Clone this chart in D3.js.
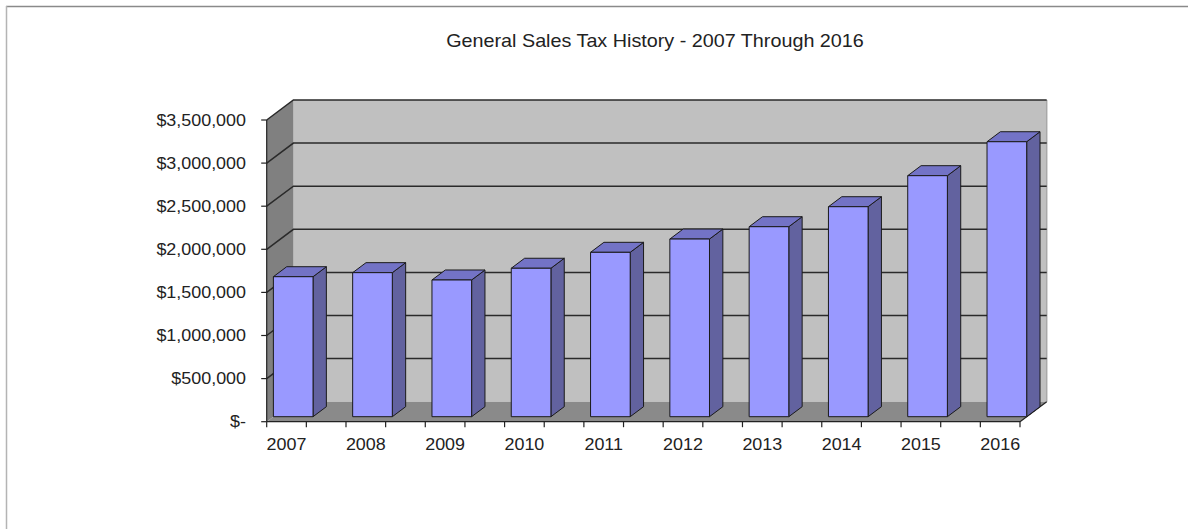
<!DOCTYPE html>
<html>
<head>
<meta charset="utf-8">
<script src="https://cdn.jsdelivr.net/npm/d3@7"></script>
<style>
  html, body { margin: 0; padding: 0; background: #fff; }
  svg { display: block; }
  text { font-family: "Liberation Sans", Arial, sans-serif; fill: #222; }
</style>
</head>
<body>
<svg id="chart" width="1188" height="529"></svg>
<script>
// Annual general sales tax collections
const years = ["2007", "2008", "2009", "2010", "2011", "2012", "2013", "2014", "2015", "2016"];
const salesTax = [1624000, 1671000, 1586000, 1722000, 1907000, 2061000, 2204000, 2436000, 2796000, 3190000];
const yTicks = [0, 500000, 1000000, 1500000, 2000000, 2500000, 3000000, 3500000];
const titleText = "General Sales Tax History - 2007 Through 2016";

const svg = d3.select("#chart");

// Front plane of the 3-D box and the depth offset to the back wall
const front = { left: 266.7, right: 1020, top: 120, bottom: 421.7 };
const depth = { dx: 26.7, dy: -20 };

const x = d3.scaleBand()
  .domain(years)
  .range([front.left, front.right])
  .paddingInner(0.5)
  .paddingOuter(0);

const y = d3.scaleLinear()
  .domain([0, 3500000])
  .range([front.bottom, front.top]);

const bw = x.bandwidth();
const pts = a => a.map(p => p.join(",")).join(" ");

// Chart area border (top and left edges)
svg.append("line").attr("x1", 6).attr("x2", 1188).attr("y1", 6.5).attr("y2", 6.5)
  .attr("stroke", "#8a8a8a").attr("stroke-width", 1.5);
svg.append("line").attr("x1", 6.5).attr("x2", 6.5).attr("y1", 6).attr("y2", 529)
  .attr("stroke", "#b4b4b4").attr("stroke-width", 1.5);

// Title
svg.append("text")
  .attr("transform", "translate(655,46.5) scale(1.04,1)")
  .attr("text-anchor", "middle")
  .style("font-size", "19px")
  .text(titleText);

const y0 = y(0), yTop = y(3500000);
const bx = front.left + depth.dx, by = depth.dy;

// Back wall
svg.append("polygon")
  .attr("points", pts([[bx, yTop + by], [front.right + depth.dx, yTop + by], [front.right + depth.dx, y0 + by], [bx, y0 + by]]))
  .attr("fill", "#c0c0c0");
svg.append("line")
  .attr("x1", front.right + depth.dx).attr("x2", front.right + depth.dx)
  .attr("y1", yTop + by).attr("y2", y0 + by)
  .attr("stroke", "#a8a8a8").attr("stroke-width", 1.5);

// Side wall
svg.append("polygon")
  .attr("points", pts([[front.left, yTop], [bx, yTop + by], [bx, y0 + by], [front.left, y0]]))
  .attr("fill", "#808080");

// Floor
svg.append("polygon")
  .attr("points", pts([[front.left, y0], [front.right, y0], [front.right + depth.dx, y0 + by], [bx, y0 + by]]))
  .attr("fill", "#8a8a8a");
svg.append("line")
  .attr("x1", front.right).attr("y1", y0)
  .attr("x2", front.right + depth.dx).attr("y2", y0 + by)
  .attr("stroke", "#222").attr("stroke-width", 1.2);

// Gridlines on the side wall and back wall
const grid = svg.append("g").attr("stroke", "#2a2a2a").attr("stroke-width", 1.5).attr("fill", "none");
yTicks.filter(v => v > 0).forEach(v => {
  grid.append("polyline")
    .attr("points", pts([[front.left, y(v)], [bx, y(v) + by], [front.right + depth.dx, y(v) + by]]));
});

// Bars: front face, top and right side
const shift = { dx: depth.dx * 0.25, dy: depth.dy * 0.25 };
const half = { dx: depth.dx * 0.5, dy: depth.dy * 0.5 };
const bars = svg.append("g").attr("stroke", "#1a1a1a").attr("stroke-width", 1).attr("stroke-linejoin", "round");
years.forEach((yr, i) => {
  const x0 = x(yr) + shift.dx;
  const x1 = x0 + bw;
  const yt = y(salesTax[i]) + shift.dy;
  const yb = y(0) + shift.dy;
  bars.append("polygon")
    .attr("points", pts([[x1, yt], [x1 + half.dx, yt + half.dy], [x1 + half.dx, yb + half.dy], [x1, yb]]))
    .attr("fill", "#62629f");
  bars.append("polygon")
    .attr("points", pts([[x0, yt], [x1, yt], [x1 + half.dx, yt + half.dy], [x0 + half.dx, yt + half.dy]]))
    .attr("fill", "#7373c6");
  bars.append("rect")
    .attr("x", x0).attr("y", yt).attr("width", bw).attr("height", yb - yt)
    .attr("fill", "#9999ff");
});

// Value axis
const fmt = d3.format("$,");
const yAxis = svg.append("g");
yAxis.append("line")
  .attr("x1", front.left).attr("x2", front.left).attr("y1", yTop).attr("y2", y0)
  .attr("stroke", "#222").attr("stroke-width", 1.2);
yTicks.forEach(v => {
  yAxis.append("line")
    .attr("x1", front.left - 5.5).attr("x2", front.left).attr("y1", y(v)).attr("y2", y(v))
    .attr("stroke", "#222").attr("stroke-width", 1.2);
  yAxis.append("text")
    .attr("transform", `translate(246,${y(v) + 5.6}) scale(1.12,1)`)
    .attr("text-anchor", "end")
    .style("font-size", "16px")
    .text(v === 0 ? "$-" : fmt(v));
});

// Category axis: ticks at every bar and gap edge, labels under each bar
const xAxis = svg.append("g");
xAxis.append("line")
  .attr("x1", front.left).attr("x2", front.right).attr("y1", y0).attr("y2", y0)
  .attr("stroke", "#222").attr("stroke-width", 1.2);
years.forEach(yr => {
  [x(yr), x(yr) + bw].forEach(t => {
    xAxis.append("line")
      .attr("x1", t).attr("x2", t).attr("y1", y0).attr("y2", y0 + 5.5)
      .attr("stroke", "#222").attr("stroke-width", 1.2);
  });
  xAxis.append("text")
    .attr("transform", `translate(${x(yr) + bw / 2},449.5) scale(1.12,1)`)
    .attr("text-anchor", "middle")
    .style("font-size", "16px")
    .text(yr);
});
</script>
</body>
</html>
